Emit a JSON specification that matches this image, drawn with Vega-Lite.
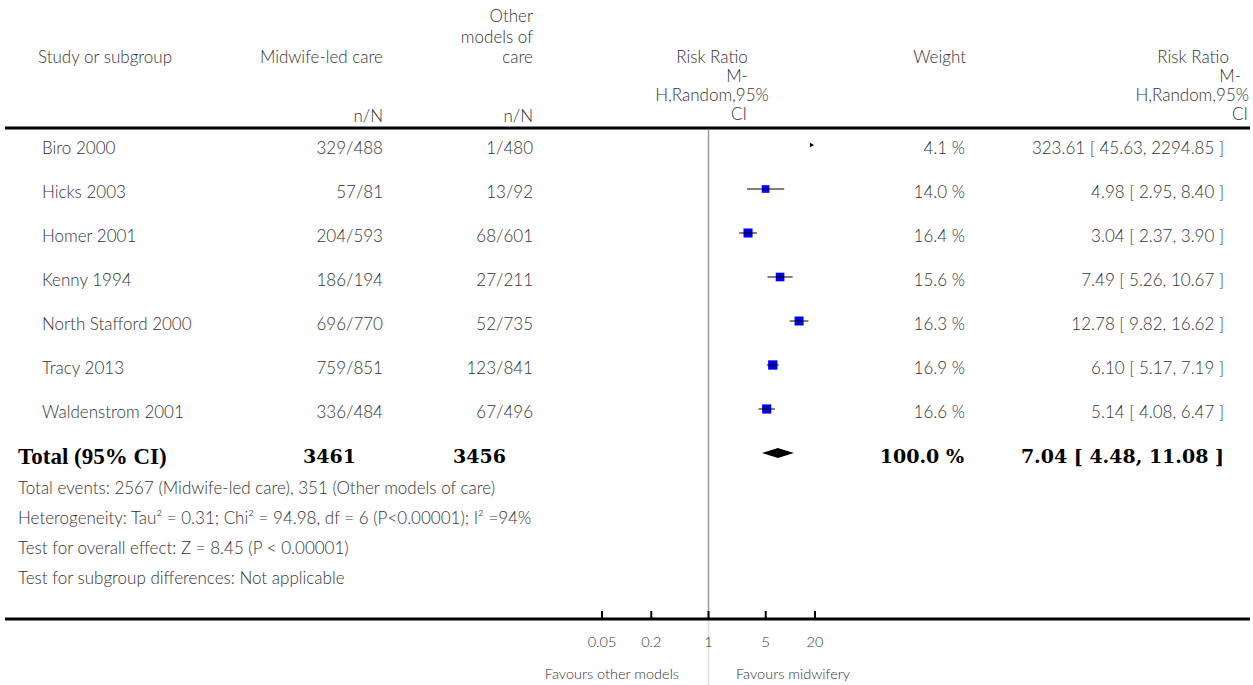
{
  "$schema": "https://vega.github.io/schema/vega-lite/v6.json",
  "width": 1253,
  "height": 685,
  "padding": 0,
  "autosize": {"type": "fit", "contains": "padding"},
  "background": "white",
  "config": {
    "view": {"stroke": null},
    "text": {"font": "Lato", "fontSize": 17, "fontWeight": 300, "color": "#333333"}
  },
  "datasets": {
    "studies": [
      {"study": "Biro 2000", "mw": "329/488", "oth": "1/480", "weight": 4.1, "w_label": "4.1 %", "rr": 323.61, "lo": 45.63, "hi": 2294.85, "rr_label": "323.61 [ 45.63, 2294.85 ]"},
      {"study": "Hicks 2003", "mw": "57/81", "oth": "13/92", "weight": 14.0, "w_label": "14.0 %", "rr": 4.98, "lo": 2.95, "hi": 8.40, "rr_label": "4.98 [ 2.95, 8.40 ]"},
      {"study": "Homer 2001", "mw": "204/593", "oth": "68/601", "weight": 16.4, "w_label": "16.4 %", "rr": 3.04, "lo": 2.37, "hi": 3.90, "rr_label": "3.04 [ 2.37, 3.90 ]"},
      {"study": "Kenny 1994", "mw": "186/194", "oth": "27/211", "weight": 15.6, "w_label": "15.6 %", "rr": 7.49, "lo": 5.26, "hi": 10.67, "rr_label": "7.49 [ 5.26, 10.67 ]"},
      {"study": "North Stafford 2000", "mw": "696/770", "oth": "52/735", "weight": 16.3, "w_label": "16.3 %", "rr": 12.78, "lo": 9.82, "hi": 16.62, "rr_label": "12.78 [ 9.82, 16.62 ]"},
      {"study": "Tracy 2013", "mw": "759/851", "oth": "123/841", "weight": 16.9, "w_label": "16.9 %", "rr": 6.10, "lo": 5.17, "hi": 7.19, "rr_label": "6.10 [ 5.17, 7.19 ]"},
      {"study": "Waldenstrom 2001", "mw": "336/484", "oth": "67/496", "weight": 16.6, "w_label": "16.6 %", "rr": 5.14, "lo": 4.08, "hi": 6.47, "rr_label": "5.14 [ 4.08, 6.47 ]"}
    ],
    "total": [
      {"study": "Total (95% CI)", "mw": "3461", "oth": "3456", "w_label": "100.0 %", "rr": 7.04, "lo": 4.48, "hi": 11.08, "rr_label": "7.04 [ 4.48, 11.08 ]"}
    ],
    "ticks": [
      {"v": 0.05, "label": "0.05"},
      {"v": 0.2, "label": "0.2"},
      {"v": 1, "label": "1"},
      {"v": 5, "label": "5"},
      {"v": 20, "label": "20"}
    ],
    "one": [{"v": 1}]
  },
  "layer": [
    {
      "data": {"name": "one"},
      "mark": {"type": "rule", "color": "#9a9a9a", "strokeWidth": 1.5},
      "encoding": {
        "x": {"field": "v", "type": "quantitative", "scale": {"type": "log", "domain": [0.05, 20], "range": [602, 815], "clamp": true, "nice": false}, "axis": null},
        "y": {"value": 130},
        "y2": {"value": 619}
      }
    },
    {
      "data": {"name": "one"},
      "mark": {"type": "rule", "color": "#dddddd", "strokeWidth": 1.5},
      "encoding": {
        "x": {"field": "v", "type": "quantitative"},
        "y": {"value": 619},
        "y2": {"value": 685}
      }
    },
    {
      "data": {"name": "one"},
      "mark": {"type": "rule", "color": "black", "strokeWidth": 3},
      "encoding": {"x": {"value": 5}, "x2": {"value": 1250}, "y": {"value": 128}}
    },
    {
      "data": {"name": "one"},
      "mark": {"type": "rule", "color": "black", "strokeWidth": 3},
      "encoding": {"x": {"value": 5}, "x2": {"value": 1250}, "y": {"value": 619}}
    },
    {
      "data": {"name": "ticks"},
      "mark": {"type": "rule", "color": "black", "strokeWidth": 2},
      "encoding": {"x": {"field": "v", "type": "quantitative"}, "y": {"value": 611}, "y2": {"value": 619}}
    },
    {
      "data": {"name": "ticks"},
      "mark": {"type": "text", "fontSize": 14.5, "baseline": "middle", "align": "center"},
      "encoding": {"x": {"field": "v", "type": "quantitative"}, "y": {"value": 643}, "text": {"field": "label"}}
    },
    {
      "data": {"name": "studies"},
      "transform": [{"filter": "datum.lo <= 20"}],
      "mark": {"type": "point", "shape": "square", "filled": true, "color": "#0000ff", "opacity": 1},
      "encoding": {
        "x": {"field": "rr", "type": "quantitative"},
        "y": {"field": "study", "type": "nominal", "axis": null, "sort": null,
              "scale": {"type": "point", "domain": ["Biro 2000", "Hicks 2003", "Homer 2001", "Kenny 1994", "North Stafford 2000", "Tracy 2013", "Waldenstrom 2001", "Total (95% CI)"], "range": [145, 453], "padding": 0}},
        "size": {"field": "weight", "type": "quantitative", "scale": {"domain": [10, 17], "range": [20, 88]}, "legend": null}
      }
    },
    {
      "data": {"name": "studies"},
      "transform": [{"filter": "datum.lo <= 20"}],
      "mark": {"type": "rule", "color": "black", "strokeWidth": 1},
      "encoding": {
        "x": {"field": "lo", "type": "quantitative"},
        "x2": {"field": "hi"},
        "y": {"field": "study", "type": "nominal"}
      }
    },
    {
      "data": {"name": "studies"},
      "transform": [{"filter": "datum.lo <= 20"}],
      "mark": {"type": "tick", "orient": "vertical", "color": "black", "size": 6, "thickness": 1},
      "encoding": {
        "x": {"field": "rr", "type": "quantitative"},
        "y": {"field": "study", "type": "nominal"}
      }
    },
    {
      "data": {"name": "studies"},
      "transform": [{"filter": "datum.lo > 20"}],
      "mark": {"type": "point", "shape": "triangle-right", "filled": true, "color": "black", "size": 22, "opacity": 1, "xOffset": -3},
      "encoding": {
        "x": {"field": "lo", "type": "quantitative"},
        "y": {"field": "study", "type": "nominal"}
      }
    },
    {
      "data": {"name": "total"},
      "mark": {"type": "point", "shape": "M-1,0L0,-0.3125L1,0L0,0.3125Z", "filled": true, "color": "black", "opacity": 1, "size": 1024},
      "encoding": {
        "x": {"field": "rr", "type": "quantitative"},
        "y": {"field": "study", "type": "nominal"}
      }
    },
    {
      "data": {"name": "studies"},
      "mark": {"type": "text", "align": "left", "baseline": "middle", "dy": 4},
      "encoding": {"x": {"value": 42}, "y": {"field": "study", "type": "nominal"}, "text": {"field": "study"}}
    },
    {
      "data": {"name": "studies"},
      "mark": {"type": "text", "align": "right", "baseline": "middle", "dy": 4},
      "encoding": {"x": {"value": 383}, "y": {"field": "study", "type": "nominal"}, "text": {"field": "mw"}}
    },
    {
      "data": {"name": "studies"},
      "mark": {"type": "text", "align": "right", "baseline": "middle", "dy": 4},
      "encoding": {"x": {"value": 533}, "y": {"field": "study", "type": "nominal"}, "text": {"field": "oth"}}
    },
    {
      "data": {"name": "studies"},
      "mark": {"type": "text", "align": "right", "baseline": "middle", "dy": 4},
      "encoding": {"x": {"value": 965}, "y": {"field": "study", "type": "nominal"}, "text": {"field": "w_label"}}
    },
    {
      "data": {"name": "studies"},
      "mark": {"type": "text", "align": "right", "baseline": "middle", "dy": 4},
      "encoding": {"x": {"value": 1224}, "y": {"field": "study", "type": "nominal"}, "text": {"field": "rr_label"}}
    },
    {
      "data": {"name": "total"},
      "mark": {"type": "text", "align": "left", "baseline": "middle", "dy": 4, "font": "Liberation Serif", "fontWeight": "bold", "fontSize": 23, "color": "black"},
      "encoding": {"x": {"value": 18}, "y": {"field": "study", "type": "nominal"}, "text": {"field": "study"}}
    },
    {
      "data": {"name": "total"},
      "mark": {"type": "text", "align": "right", "baseline": "middle", "dy": 4, "font": "DejaVu Serif", "fontWeight": "bold", "fontSize": 19, "color": "black"},
      "encoding": {"x": {"value": 356}, "y": {"field": "study", "type": "nominal"}, "text": {"field": "mw"}}
    },
    {
      "data": {"name": "total"},
      "mark": {"type": "text", "align": "right", "baseline": "middle", "dy": 4, "font": "DejaVu Serif", "fontWeight": "bold", "fontSize": 19, "color": "black"},
      "encoding": {"x": {"value": 506}, "y": {"field": "study", "type": "nominal"}, "text": {"field": "oth"}}
    },
    {
      "data": {"name": "total"},
      "mark": {"type": "text", "align": "right", "baseline": "middle", "dy": 4, "font": "DejaVu Serif", "fontWeight": "bold", "fontSize": 19, "color": "black"},
      "encoding": {"x": {"value": 964}, "y": {"field": "study", "type": "nominal"}, "text": {"field": "w_label"}}
    },
    {
      "data": {"name": "total"},
      "mark": {"type": "text", "align": "right", "baseline": "middle", "dy": 4, "font": "DejaVu Serif", "fontWeight": "bold", "fontSize": 19, "color": "black"},
      "encoding": {"x": {"value": 1224}, "y": {"field": "study", "type": "nominal"}, "text": {"field": "rr_label"}}
    },
    {
      "data": {"name": "one"},
      "mark": {"type": "text", "align": "left", "baseline": "middle", "lineHeight": 30},
      "encoding": {"x": {"value": 18}, "y": {"value": 489},
        "text": {"value": ["Total events: 2567 (Midwife-led care), 351 (Other models of care)", "Heterogeneity: Tau² = 0.31; Chi² = 94.98, df = 6 (P<0.00001); I² =94%", "Test for overall effect: Z = 8.45 (P < 0.00001)", "Test for subgroup differences: Not applicable"]}}
    },
    {
      "data": {"name": "one"},
      "mark": {"type": "text", "align": "left", "baseline": "middle"},
      "encoding": {"x": {"value": 38}, "y": {"value": 58}, "text": {"value": "Study or subgroup"}}
    },
    {
      "data": {"name": "one"},
      "mark": {"type": "text", "align": "right", "baseline": "middle"},
      "encoding": {"x": {"value": 383}, "y": {"value": 58}, "text": {"value": "Midwife-led care"}}
    },
    {
      "data": {"name": "one"},
      "mark": {"type": "text", "align": "right", "baseline": "middle", "lineHeight": 20.5},
      "encoding": {"x": {"value": 533}, "y": {"value": 17}, "text": {"value": ["Other", "models of", "care"]}}
    },
    {
      "data": {"name": "one"},
      "mark": {"type": "text", "align": "right", "baseline": "middle"},
      "encoding": {"x": {"value": 383}, "y": {"value": 117}, "text": {"value": "n/N"}}
    },
    {
      "data": {"name": "one"},
      "mark": {"type": "text", "align": "right", "baseline": "middle"},
      "encoding": {"x": {"value": 533}, "y": {"value": 117}, "text": {"value": "n/N"}}
    },
    {
      "data": {"name": "one"},
      "mark": {"type": "text", "align": "center", "baseline": "middle"},
      "encoding": {"x": {"value": 712}, "y": {"value": 58}, "text": {"value": "Risk Ratio"}}
    },
    {
      "data": {"name": "one"},
      "mark": {"type": "text", "align": "center", "baseline": "middle"},
      "encoding": {"x": {"value": 737}, "y": {"value": 77}, "text": {"value": "M-"}}
    },
    {
      "data": {"name": "one"},
      "mark": {"type": "text", "align": "center", "baseline": "middle"},
      "encoding": {"x": {"value": 712}, "y": {"value": 96}, "text": {"value": "H,Random,95%"}}
    },
    {
      "data": {"name": "one"},
      "mark": {"type": "text", "align": "center", "baseline": "middle"},
      "encoding": {"x": {"value": 739}, "y": {"value": 115}, "text": {"value": "CI"}}
    },
    {
      "data": {"name": "one"},
      "mark": {"type": "text", "align": "right", "baseline": "middle"},
      "encoding": {"x": {"value": 966}, "y": {"value": 58}, "text": {"value": "Weight"}}
    },
    {
      "data": {"name": "one"},
      "mark": {"type": "text", "align": "right", "baseline": "middle"},
      "encoding": {"x": {"value": 1229}, "y": {"value": 58}, "text": {"value": "Risk Ratio"}}
    },
    {
      "data": {"name": "one"},
      "mark": {"type": "text", "align": "right", "baseline": "middle"},
      "encoding": {"x": {"value": 1241}, "y": {"value": 77}, "text": {"value": "M-"}}
    },
    {
      "data": {"name": "one"},
      "mark": {"type": "text", "align": "right", "baseline": "middle"},
      "encoding": {"x": {"value": 1249}, "y": {"value": 96}, "text": {"value": "H,Random,95%"}}
    },
    {
      "data": {"name": "one"},
      "mark": {"type": "text", "align": "right", "baseline": "middle"},
      "encoding": {"x": {"value": 1248}, "y": {"value": 115}, "text": {"value": "CI"}}
    },
    {
      "data": {"name": "one"},
      "mark": {"type": "text", "align": "right", "baseline": "middle", "fontSize": 14.5},
      "encoding": {"x": {"value": 679}, "y": {"value": 675}, "text": {"value": "Favours other models"}}
    },
    {
      "data": {"name": "one"},
      "mark": {"type": "text", "align": "left", "baseline": "middle", "fontSize": 14.5},
      "encoding": {"x": {"value": 736}, "y": {"value": 675}, "text": {"value": "Favours midwifery"}}
    }
  ]
}
